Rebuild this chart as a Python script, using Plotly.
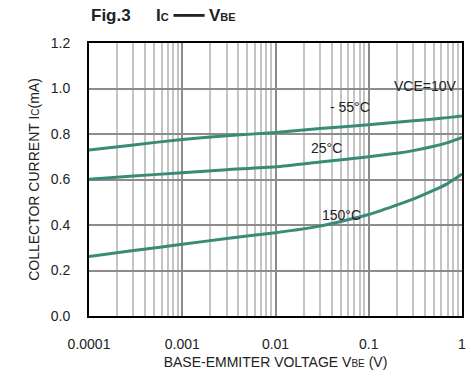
import plotly.graph_objects as go

vbe = [0.0001, 0.0003, 0.001, 0.003, 0.01, 0.03, 0.1, 0.2, 0.3, 0.5, 0.7, 1.0]
ic_m55 = [0.730, 0.752, 0.776, 0.792, 0.807, 0.824, 0.841, 0.852, 0.858, 0.866, 0.872, 0.879]
ic_25 = [0.601, 0.615, 0.630, 0.643, 0.656, 0.677, 0.700, 0.715, 0.727, 0.746, 0.762, 0.785]
ic_150 = [0.262, 0.288, 0.315, 0.341, 0.366, 0.395, 0.446, 0.488, 0.514, 0.553, 0.582, 0.624]

x_major = [0.0001, 0.001, 0.01, 0.1, 1]
x_labels = ["0.0001", "0.001", "0.01", "0.1", "1"]
x_minor = [m * d for d in [0.0001, 0.001, 0.01, 0.1] for m in range(2, 10)]
y_ticks = [0.0, 0.2, 0.4, 0.6, 0.8, 1.0, 1.2]

line_color = "#3a8a78"
fig = go.Figure()
for ys in [ic_m55, ic_25, ic_150]:
    fig.add_trace(go.Scatter(x=vbe, y=ys, mode="lines",
                             line=dict(color=line_color, width=3, shape="spline", smoothing=0.6),
                             showlegend=False, hoverinfo="skip"))

font = "Liberation Sans, Arial, sans-serif"
fig.update_layout(
    width=471, height=377,
    margin=dict(l=89, r=5, t=43, b=61),
    paper_bgcolor="white", plot_bgcolor="white",
    font=dict(family=font, size=14, color="#222"),
    xaxis=dict(type="log", range=[-4, 0], tickvals=x_major, ticktext=x_labels,
               showgrid=True, gridcolor="#8c8c8c", gridwidth=1.5,
               minor=dict(tickvals=x_minor, showgrid=True, gridcolor="#c4c4c4", gridwidth=1.5, ticks=""),
               showline=True, mirror=True, linecolor="black", linewidth=2, ticks="", zeroline=False,
               ticklabelstandoff=14, ticklabeloverflow="allow",
               title=dict(text="BASE-EMMITER VOLTAGE V<span style='font-size:10px'>BE</span> (V)",
                          font=dict(size=14), standoff=6),
               tickfont=dict(size=14)),
    yaxis=dict(range=[0, 1.2], tickvals=y_ticks, tickformat=".1f",
               showgrid=True, gridcolor="#8c8c8c", gridwidth=1.5,
               showline=True, mirror=True, linecolor="black", linewidth=2, ticks="", zeroline=False,
               ticklabelstandoff=14,
               title=dict(text="COLLECTOR CURRENT I<span style='font-size:10px'>C</span>(mA)",
                          font=dict(size=14), standoff=8),
               tickfont=dict(size=14)),
)

fig.add_annotation(xref="paper", yref="paper", x=0.0, y=1.0, yshift=28, xanchor="left", yanchor="middle",
                   text="<b>Fig.3</b>", showarrow=False, font=dict(size=17, color="#222"))
fig.add_annotation(xref="paper", yref="paper", x=0.175, y=1.0, yshift=28, xanchor="left", yanchor="middle",
                   text="<b>I<span style='font-size:11px'>C</span></b> <span style='font-family:DejaVu Sans'>━━━</span> <b>V<span style='font-size:11px'>BE</span></b>",
                   showarrow=False, font=dict(size=17, color="#222"))

labels = [("VCE=10V", -0.39, 1.011), ("- 55°C", -1.2, 0.919), ("25°C", -1.45, 0.738), ("150°C", -1.29, 0.444)]
for t, lx, ly in labels:
    fig.add_annotation(x=lx, y=ly, text=t, showarrow=False, font=dict(size=14, color="#222"))

fig.write_html("out.html", config={"displayModeBar": False},
               post_script="document.body.style.margin='0';document.body.style.padding='0';document.body.style.overflow='hidden';")
